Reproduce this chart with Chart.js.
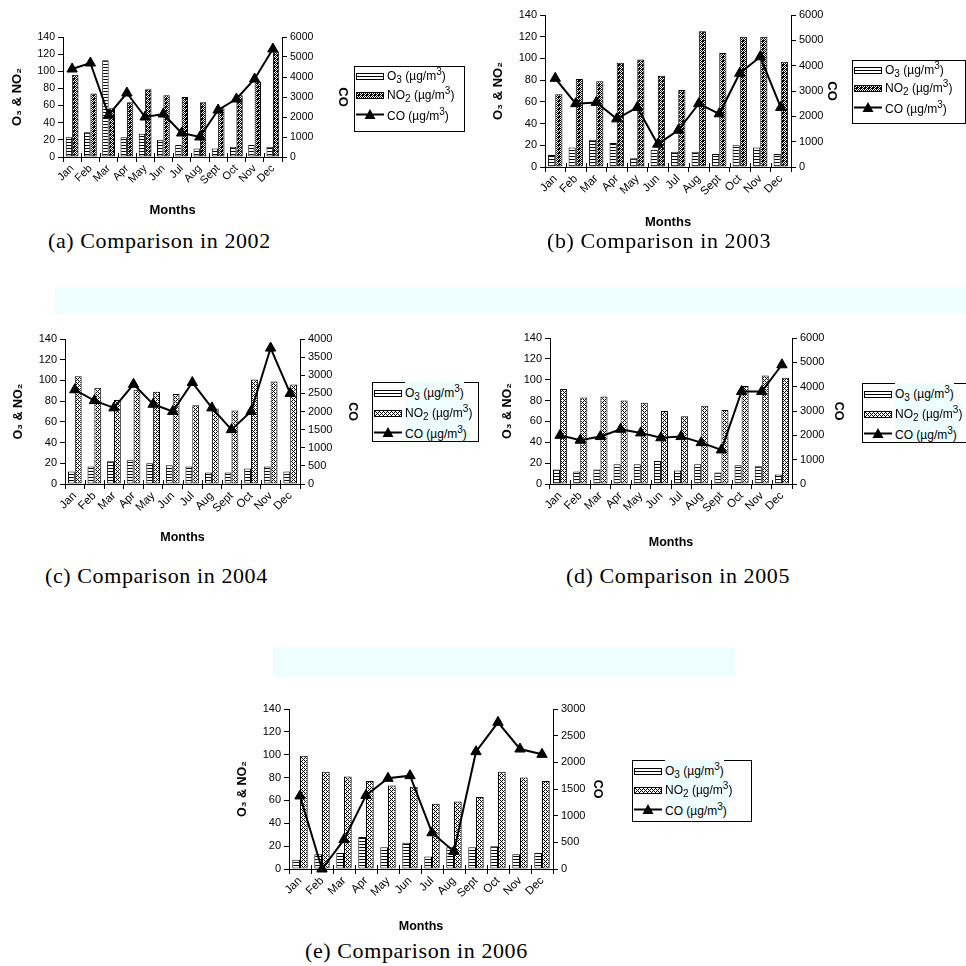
<!DOCTYPE html>
<html>
<head>
<meta charset="utf-8">
<script src="https://cdn.jsdelivr.net/npm/chart.js@4.4.1/dist/chart.umd.min.js"></script>
<style>
  html, body { margin:0; padding:0; background:#fff; width:966px; height:966px; overflow:hidden; position:relative;
    font-family:"Liberation Sans", Arial, sans-serif; color:#000; }
  canvas.panel { position:absolute; }
  .band { position:absolute; background:#eefeff; }
  .legend { position:absolute; border:1px solid #000; background:#fff; box-sizing:border-box; }
  .legend .row { position:absolute; left:0; height:14px; display:flex; align-items:center; white-space:nowrap; font-size:12px; }
  .legend .row canvas { display:block; margin-right:2px; }
  .legend.tinted .txt { background:#eefeff; }
  .caption { position:absolute; font-family:"Liberation Serif", "Times New Roman", serif; font-size:22px;
    letter-spacing:0.6px; white-space:nowrap; line-height:1; }
</style>
</head>
<body>
<script>
// Monthly mean concentrations, µg/m³
const months = ['Jan','Feb','Mar','Apr','May','Jun','Jul','Aug','Sept','Oct','Nov','Dec'];

const o3_2002  = [23, 29, 113, 23, 27, 20, 14, 10, 10, 12, 14, 12];
const no2_2002 = [96, 74, 57, 64, 79, 72, 70, 64, 57, 72, 88, 123];
const co_2002  = [4400, 4700, 2100, 3200, 2000, 2150, 1200, 1000, 2350, 2900, 3900, 5400];

const o3_2003  = [11, 18, 25, 22, 8, 16, 14, 14, 12, 20, 18, 12];
const no2_2003 = [67, 81, 79, 96, 99, 84, 71, 125, 105, 120, 120, 97];
const co_2003  = [3500, 2500, 2550, 1900, 2350, 900, 1450, 2500, 2100, 3700, 4350, 2350];

const o3_2004  = [12, 17, 22, 23, 20, 18, 17, 11, 11, 15, 17, 12];
const no2_2004 = [104, 93, 81, 91, 89, 87, 76, 73, 71, 101, 99, 96];
const co_2004  = [2600, 2300, 2100, 2750, 2200, 2000, 2800, 2100, 1500, 2000, 3750, 2500];

const o3_2005  = [14, 12, 14, 19, 19, 22, 13, 19, 11, 18, 17, 9];
const no2_2005 = [91, 83, 84, 80, 78, 70, 65, 75, 71, 94, 104, 102];
const co_2005  = [2000, 1800, 1950, 2250, 2100, 1900, 1950, 1700, 1400, 3800, 3800, 4900];

const o3_2006  = [8, 13, 14, 28, 19, 23, 11, 19, 19, 20, 13, 14];
const no2_2006 = [99, 85, 81, 77, 73, 72, 57, 59, 63, 85, 80, 77];
const co_2006  = [1370, 0, 550, 1380, 1700, 1750, 680, 330, 2200, 2750, 2250, 2150];

const FONT = '"Liberation Sans", Arial, sans-serif';

// Fill textures for the two bar series
function makeTile(kind) {
  const c = document.createElement('canvas');
  const g = c.getContext('2d');
  if (kind === 'lines') {
    c.width = 4; c.height = 3;
    g.fillStyle = '#fff'; g.fillRect(0, 0, 4, 3);
    g.fillStyle = '#000'; g.fillRect(0, 0, 4, 1);
  } else if (kind === 'zig') {
    c.width = 4; c.height = 4;
    g.fillStyle = '#000'; g.fillRect(0, 0, 4, 4);
    g.fillStyle = '#fff';
    [[1,0],[2,1],[1,2],[0,3],[3,0],[2,3]].forEach(([x, y]) => g.fillRect(x, y, 1, 1));
  } else {
    c.width = 4; c.height = 4;
    g.fillStyle = '#fff'; g.fillRect(0, 0, 4, 4);
    g.fillStyle = '#000';
    for (let y = 0; y < 4; y++) for (let x = 0; x < 4; x++) {
      if ((x + y) % 2 === 0 && !(x === 0 && y === 0) && !(x === 2 && y === 2)) g.fillRect(x, y, 1, 1);
    }
  }
  return c;
}
function pattern(ctx, kind) { return ctx.createPattern(makeTile(kind), 'repeat'); }

const panels = [
  { o3: o3_2002, no2: no2_2002, co: co_2002, coMax: 6000, coStep: 1000, tex: 'zig', fs: 10.5, tfs: 13,
    area: { l: 63, t: 37, r: 282, b: 157 }, o3X: 18, coX: 342, monthsY: 210 },
  { o3: o3_2003, no2: no2_2003, co: co_2003, coMax: 6000, coStep: 1000, tex: 'zig', fs: 11, tfs: 13,
    area: { l: 545, t: 15, r: 791, b: 167 }, o3X: 499, coX: 831, monthsY: 222 },
  { o3: o3_2004, no2: no2_2004, co: co_2004, coMax: 4000, coStep: 500, tex: 'dots', fs: 11, tfs: 12.5,
    area: { l: 65, t: 339, r: 300, b: 484 }, o3X: 19, coX: 352, monthsY: 537 },
  { o3: o3_2005, no2: no2_2005, co: co_2005, coMax: 6000, coStep: 1000, tex: 'dots', fs: 11, tfs: 12.5,
    area: { l: 550, t: 338, r: 792, b: 484 }, o3X: 508, coX: 838, monthsY: 542 },
  { o3: o3_2006, no2: no2_2006, co: co_2006, coMax: 3000, coStep: 500, tex: 'dots', fs: 11, tfs: 12.5,
    area: { l: 289, t: 709, r: 553, b: 869 }, o3X: 243, coX: 597, monthsY: 926 }
];

// Short marks above the category axis so its ticks cross the line
const crossTicks = {
  id: 'crossTicks',
  afterDraw(chart) {
    const xs = chart.scales.x, g = chart.ctx;
    const n = chart.data.labels.length;
    const step = (xs.right - xs.left) / n;
    g.save();
    g.strokeStyle = '#000'; g.lineWidth = 1;
    g.beginPath();
    for (let i = 0; i <= n; i++) {
      const px = Math.round(xs.left + i * step) + 0.5;
      g.moveTo(px, xs.top); g.lineTo(px, xs.top - 4);
    }
    g.stroke();
    g.restore();
  }
};

function axisStyle(fs) {
  return {
    grid: { drawOnChartArea: false, drawTicks: true, tickLength: 5, color: '#000', lineWidth: 1 },
    border: { display: true, color: '#000', width: 1 },
    ticks: { color: '#000', font: { family: FONT, size: fs }, padding: 3, callback: v => String(v) }
  };
}

panels.forEach(p => {
  const TOP_PAD = 12;
  const cl = p.o3X - 8, cr = p.coX + 8, ct = p.area.t - TOP_PAD, cb = p.monthsY + 8;
  const cv = document.createElement('canvas');
  cv.className = 'panel';
  cv.width = cr - cl; cv.height = cb - ct;
  cv.style.left = cl + 'px'; cv.style.top = ct + 'px';
  document.body.appendChild(cv);
  const ctx = cv.getContext('2d');
  const leftW = p.area.l - cl, rightW = cr - p.area.r, bottomH = cb - p.area.b;
  const titleFont = { family: FONT, size: p.tfs, weight: 'bold' };
  const ax = axisStyle(p.fs);

  new Chart(ctx, {
    data: {
      labels: months,
      datasets: [
        { type: 'bar', label: 'O3', data: p.o3, yAxisID: 'y', order: 1,
          backgroundColor: pattern(ctx, 'lines'), borderColor: '#000', borderWidth: 1, borderSkipped: false,
          categoryPercentage: 0.7, barPercentage: 1.0 },
        { type: 'bar', label: 'NO2', data: p.no2, yAxisID: 'y', order: 1,
          backgroundColor: pattern(ctx, p.tex), borderColor: '#000', borderWidth: 1, borderSkipped: false,
          categoryPercentage: 0.7, barPercentage: 1.0 },
        { type: 'line', label: 'CO', data: p.co, yAxisID: 'y1', order: 0, clip: false,
          borderColor: '#000', borderWidth: 2, tension: 0,
          pointStyle: 'triangle', pointRadius: 6, pointBackgroundColor: '#000', pointBorderColor: '#000', pointBorderWidth: 1 }
      ]
    },
    options: {
      responsive: false, animation: false, devicePixelRatio: 1,
      layout: { padding: { top: TOP_PAD, left: 0, right: 0, bottom: 0 } },
      plugins: { legend: { display: false }, tooltip: { enabled: false } },
      events: [],
      scales: {
        x: {
          offset: true,
          grid: { offset: true, drawOnChartArea: false, drawTicks: true, tickLength: 5, color: '#000' },
          border: ax.border,
          ticks: { color: '#000', font: { family: FONT, size: p.fs + 0.5 }, minRotation: 45, maxRotation: 45, autoSkip: false, padding: 0 },
          title: { display: true, text: 'Months', color: '#000', font: titleFont, padding: 0 },
          afterFit: s => { s.height = bottomH; }
        },
        y: {
          position: 'left', min: 0, max: 140,
          grid: ax.grid, border: ax.border,
          ticks: Object.assign({ stepSize: 20 }, ax.ticks),
          title: { display: true, text: 'O₃ & NO₂', color: '#000', font: titleFont, padding: 0 },
          afterFit: s => { s.width = leftW; }
        },
        y1: {
          position: 'right', min: 0, max: p.coMax,
          grid: ax.grid, border: ax.border,
          ticks: Object.assign({ stepSize: p.coStep }, ax.ticks),
          title: { display: true, text: 'CO', color: '#000', font: titleFont, padding: 0 },
          afterFit: s => { s.width = rightW; }
        }
      }
    },
    plugins: [crossTicks]
  });
});

// Legend swatches
function swatch(kind, tex) {
  const c = document.createElement('canvas');
  c.width = 30; c.height = 12;
  const g = c.getContext('2d');
  if (kind === 'line') {
    g.strokeStyle = '#000'; g.lineWidth = 2;
    g.beginPath(); g.moveTo(1, 6.5); g.lineTo(29, 6.5); g.stroke();
    g.fillStyle = '#000'; g.beginPath(); g.moveTo(15, 1); g.lineTo(20.5, 11); g.lineTo(9.5, 11); g.closePath(); g.fill();
  } else {
    g.fillStyle = '#000'; g.fillRect(1, 3, 28, 7);
    g.fillStyle = g.createPattern(makeTile(kind === 'o3' ? 'lines' : tex), 'repeat');
    g.fillRect(2, 4, 26, 5);
  }
  return c;
}

const legends = [
  { x: 354, y: 66, w: 111, h: 66, rows: [9, 28, 47], tex: 'zig', tinted: false },
  { x: 852, y: 60, w: 114, h: 64, rows: [9, 27, 46], tex: 'zig', tinted: false },
  { x: 372, y: 382, w: 107, h: 60, rows: [10, 30, 49], tex: 'dots', tinted: true },
  { x: 862, y: 383, w: 112, h: 60, rows: [10, 30, 49], tex: 'dots', tinted: true },
  { x: 632, y: 760, w: 120, h: 62, rows: [10, 29, 48], tex: 'dots', tinted: true }
];
const legendText = ['O<sub>3</sub> (µg/m<sup>3</sup>)', 'NO<sub>2</sub> (µg/m<sup>3</sup>)', 'CO (µg/m<sup>3</sup>)'];
legends.forEach(L => {
  const d = document.createElement('div');
  d.className = 'legend' + (L.tinted ? ' tinted' : '');
  Object.assign(d.style, { left: L.x + 'px', top: L.y + 'px', width: L.w + 'px', height: L.h + 'px' });
  ['o3', 'no2', 'line'].forEach((k, i) => {
    const r = document.createElement('div');
    r.className = 'row';
    r.style.top = (L.rows[i] - 7) + 'px';
    r.appendChild(swatch(k, L.tex));
    const t = document.createElement('span');
    t.className = 'txt';
    t.innerHTML = legendText[i];
    t.style.lineHeight = '14px';
    r.appendChild(t);
    d.appendChild(r);
  });
  document.body.appendChild(d);
});

// Captions and background bands
[[48, 230, '(a) Comparison in 2002'], [547, 230, '(b) Comparison in 2003'],
 [45, 565, '(c) Comparison in 2004'], [566, 565, '(d) Comparison in 2005'],
 [305, 940, '(e) Comparison in 2006']].forEach(([x, y, s]) => {
  const c = document.createElement('div');
  c.className = 'caption';
  c.style.left = x + 'px'; c.style.top = y + 'px';
  c.textContent = s;
  document.body.appendChild(c);
});
[[55, 287, 911, 26], [273, 647, 462, 30]].forEach(([x, y, w, h]) => {
  const b = document.createElement('div');
  b.className = 'band';
  Object.assign(b.style, { left: x + 'px', top: y + 'px', width: w + 'px', height: h + 'px' });
  document.body.insertBefore(b, document.body.firstChild);
});
</script>
</body>
</html>
